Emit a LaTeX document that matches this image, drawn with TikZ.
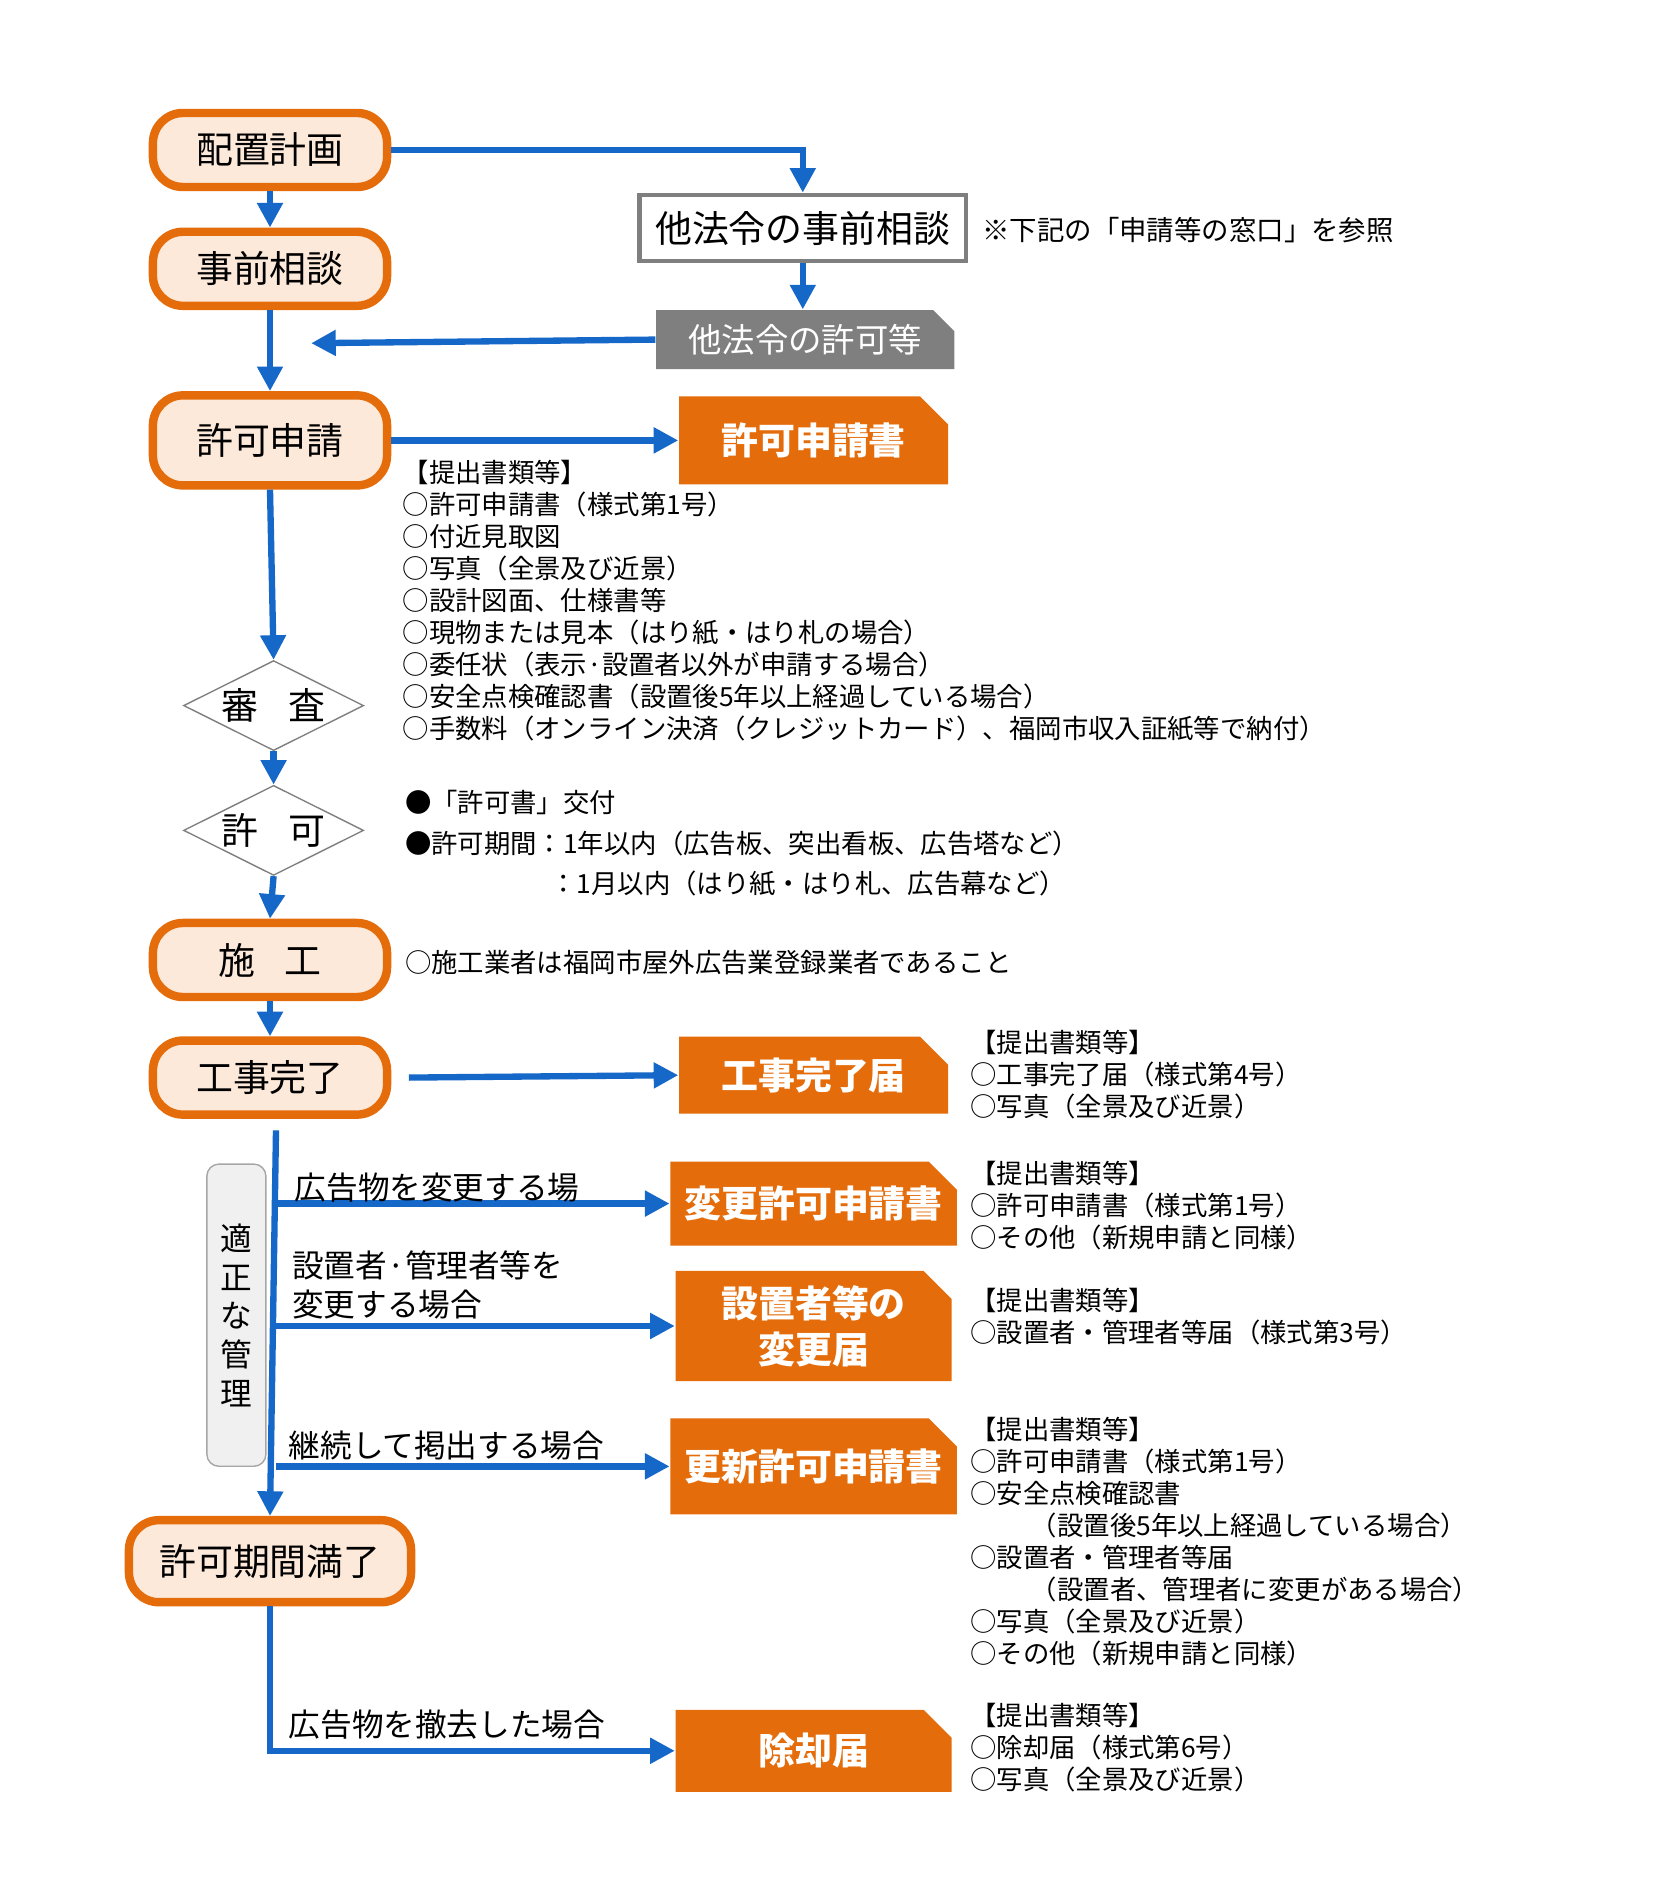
\documentclass[tikz,border=0pt]{standalone}
\usepackage{fontspec}
\setmainfont{Noto Sans CJK JP}
\usetikzlibrary{arrows.meta,shapes.geometric,shapes.misc}
\definecolor{orgline}{HTML}{E46C0A}
\definecolor{orgfill}{HTML}{FDE9D9}
\definecolor{flowblue}{HTML}{1567C8}
\definecolor{boxgray}{HTML}{7F7F7F}
\tikzset{
  stage/.style={draw=orgline, fill=orgfill, line width=2.4pt, rounded corners=0.3cm,
    minimum width=2.34cm, minimum height=0.74cm, font=\fontsize{10.5}{12}\selectfont},
  check/.style={diamond, draw=gray, thin, aspect=2, minimum width=1.8cm, minimum height=0.9cm,
    inner sep=0pt, font=\fontsize{10.5}{12}\selectfont},
  docbox/.style={chamfered rectangle, chamfered rectangle corners=north east, chamfered rectangle xsep=4pt, chamfered rectangle ysep=4pt,
    fill=orgline, text=white, font=\bfseries\fontsize{10.5}{13}\selectfont, inner sep=0pt, align=center},
  flow/.style={flowblue, line width=1.8pt, -{Triangle[length=7pt,width=7pt]}},
  flowline/.style={flowblue, line width=1.8pt},
  txt/.style={anchor=west, inner sep=0pt, font=\fontsize{7.5}{9}\selectfont},
  lst/.style={anchor=north west, inner sep=0pt, align=left, font=\fontsize{7.5}{9.1}\selectfont},
  cond/.style={anchor=west, inner sep=0pt, align=left, font=\fontsize{9}{11}\selectfont},
}
\begin{document}
\begin{tikzpicture}[x=0.012cm,y=-0.012cm]
\useasboundingbox (0,0) rectangle (1378.3,1574.2);

% left column
\node [stage] (keikaku) at (225,125) {配置計画};
\node [stage] (soudan) at (225,224) {事前相談};
\node [stage, minimum height=0.9cm] (shinsei) at (225,367) {許可申請};
\node [check] (shinsa) at (228,588) {審\hspace{0.8em}査};
\node [check] (kyoka) at (228,692) {許\hspace{0.8em}可};
\node [stage] (sekou) at (225,800) {施\hspace{0.8em}工};
\node [stage] (kanryo) at (225,898) {工事完了};
\node [stage, minimum width=2.82cm, minimum height=0.82cm] (manryo) at (225,1301) {許可期間満了};
\node [draw=gray!70, fill=gray!12, rounded corners=0.12cm, minimum width=0.59cm, minimum height=3.02cm,
  align=center, font=\fontsize{9}{11}\selectfont] (kanri) at (197,1096) {適\\正\\な\\管\\理};

% other laws
\node [draw=boxgray, line width=1.3pt, fill=white, minimum width=3.26cm, minimum height=0.66cm,
  font=\fontsize{10.5}{12}\selectfont] (tasoudan) at (669,190) {他法令の事前相談};
\node [anchor=west, inner sep=0pt, font=\fontsize{7.8}{9}\selectfont] (sansho) at (818,192) {※下記の「申請等の窓口」を参照};
\node [chamfered rectangle, chamfered rectangle corners=north east, chamfered rectangle xsep=3pt, chamfered rectangle ysep=3pt,
  fill=boxgray, text=white, minimum width=2.98cm, minimum height=0.59cm, inner sep=0pt,
  font=\fontsize{9.5}{11}\selectfont] (takyoka) at (671,283) {他法令の許可等};

% documents
\node [docbox, minimum width=2.69cm, minimum height=0.88cm] (shinseisho) at (678,367) {許可申請書};
\node [docbox, minimum width=2.69cm, minimum height=0.77cm] (todoke) at (678,896) {工事完了届};
\node [docbox, minimum width=2.76cm, minimum height=0.84cm] (henko) at (678,1003) {変更許可申請書};
\node [docbox, minimum width=2.76cm, minimum height=1.1cm] (setchi) at (678,1105) {設置者等の\\変更届};
\node [docbox, minimum width=2.76cm, minimum height=0.96cm] (koshin) at (678,1222) {更新許可申請書};
\node [docbox, minimum width=2.76cm, minimum height=0.82cm] (jokyaku) at (678,1459) {除却届};

% connectors
\draw [flow] (keikaku.east) -| (tasoudan.north);
\draw [flow] (tasoudan.south) -- (tasoudan.south |- takyoka.north);
\coordinate (merge) at (230,286);
\draw [flow] (takyoka.west) -- ([xshift=10]merge);
\draw [flow] (soudan.south) -- (shinsei.north);
\draw [flow] (keikaku.south) -- (soudan.north);
\draw [flow] (shinsei.east |- shinseisho.west) -- (shinseisho.west);
\draw [flow] (shinsei.south) -- (shinsa.north);
\draw [flow] (shinsa.south) -- (kyoka.north);
\draw [flow] (kyoka.south) -- (sekou.north);
\draw [flow] (sekou.south) -- (kanryo.north);
\draw [flow] ([xshift=5]kanryo.east) -- (todoke.west);
\coordinate (top) at (230,942);
\draw [flow] (top) -- (manryo.north);
\draw [flow] (top |- henko.west) -- (henko.west);
\draw [flow] (top |- setchi.west) -- (setchi.west);
\draw [flow] (top |- koshin.west) -- (koshin.west);
\draw [flow] (manryo.south) |- (jokyaku.west);

% texts
\node [lst] (docs) at (335,383) {【提出書類等】\\○許可申請書（様式第1号）\\○付近見取図\\○写真（全景及び近景）\\○設計図面、仕様書等\\○現物または見本（はり紙・はり札の場合）\\○委任状（表示·設置者以外が申請する場合）\\○安全点検確認書（設置後5年以上経過している場合）\\○手数料（オンライン決済（クレジットカード）、福岡市収入証紙等で納付）};
\node [txt] (kofu) at (337,669) {●「許可書」交付};
\node [txt] (kikan1) at (337,703) {●許可期間：1年以内（広告板、突出看板、広告塔など）};
\node [txt] (kikan2) at (458,736) {：1月以内（はり紙・はり札、広告幕など）};
\node [txt] (gyosha) at (337,802) {○施工業者は福岡市屋外広告業登録業者であること};
\node [lst] (docs2) at (808,858) {【提出書類等】\\○工事完了届（様式第4号）\\○写真（全景及び近景）};
\node [lst] (docs3) at (808,967) {【提出書類等】\\○許可申請書（様式第1号）\\○その他（新規申請と同様）};
\node [lst] (docs4) at (808,1073) {【提出書類等】\\○設置者・管理者等届（様式第3号）};
\node [lst] (docs5) at (808,1180) {【提出書類等】\\○許可申請書（様式第1号）\\○安全点検確認書\\\hspace{2.3em}（設置後5年以上経過している場合）\\○設置者・管理者等届\\\hspace{2.3em}（設置者、管理者に変更がある場合）\\○写真（全景及び近景）\\○その他（新規申請と同様）};
\node [lst] (docs6) at (808,1419) {【提出書類等】\\○除却届（様式第6号）\\○写真（全景及び近景）};
\node [cond] (c1) at (245,990) {広告物を変更する場};
\node [cond] (c2) at (243,1071) {設置者·管理者等を\\変更する場合};
\node [cond] (c3) at (240,1205) {継続して掲出する場合};
\node [cond] (c4) at (240,1437) {広告物を撤去した場合};
\end{tikzpicture}
\end{document}
